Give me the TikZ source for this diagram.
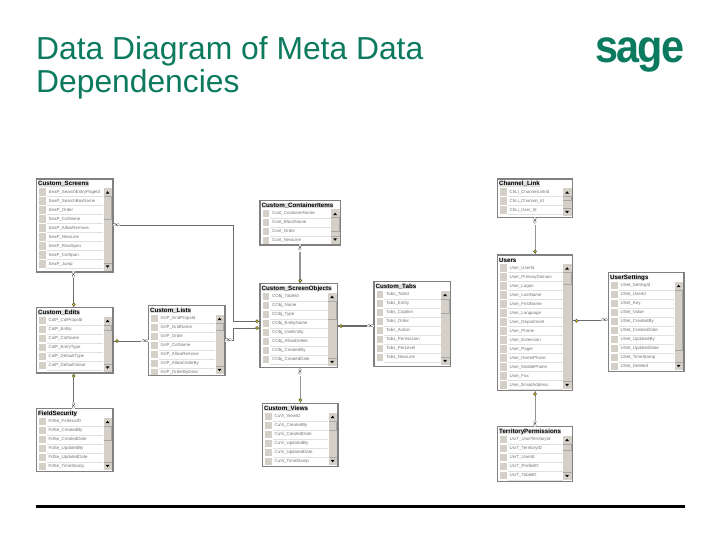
\documentclass[tikz,border=0pt]{standalone}
\usepackage{fontspec}
\setmainfont{Liberation Sans}
\usepackage{xcolor}
\usetikzlibrary{arrows.meta,positioning,calc}
\definecolor{sagegreen}{HTML}{0B7A5E}
\definecolor{winface}{HTML}{D4D0C8}
\newcommand{\tinyfont}{\fontsize{4.4}{5}\selectfont}
% name, left, top, right, bottom, title, thumb height, rows
\newcommand{\dbtable}[8]{
  \node[tbl,minimum width=#4-#2,minimum height=#5-#3] (#1) at ({(#2+#4)/2},{(#3+#5)/2}) {};
  \node[ttl,anchor=west] (#1-title) at (#2+1.5,#3+5) {#6};
  \begin{scope}
  \clip (#2+.7,#3+9) rectangle (#4-.7,#5-.7);
  \foreach \rowname [count=\i] in {#8}{
    \pgfmathsetmacro{\rowy}{#3+13+(\i-1)*9}
    \fill[winface] (#2+2.5,\rowy-3.6) rectangle (#2+9,\rowy+3.6);
    \draw[black!12,line width=.5pt] (#2+10,\rowy+4.4) -- (#4-10,\rowy+4.4);
    \node[rowlab,anchor=west] (#1-r\i) at (#2+12,\rowy) {\rowname};
  }
  \end{scope}
  \fill[winface] (#4-9.5,#3+9) rectangle (#4-1,#5-1.5);
  \fill[black!35] (#4-9.5,#3+17+#7) rectangle (#4-1,#3+17.6+#7);
  \fill[black!35] (#4-1.8,#3+17) rectangle (#4-1,#3+17+#7);
  \fill[black!35] (#4-9.5,#3+17) rectangle (#4-1,#3+17.5);
  \fill[black!35] (#4-9.5,#5-9.5) rectangle (#4-1,#5-9);
  \fill[black] (#4-7.3,#3+14.6) -- (#4-3.5,#3+14.6) -- (#4-5.4,#3+12.2) -- cycle;
  \fill[black] (#4-7.3,#5-6.6) -- (#4-3.5,#5-6.6) -- (#4-5.4,#5-4.2) -- cycle;
}
\begin{document}
\begin{tikzpicture}[x=1pt,y=-1pt,
  tbl/.style={draw=black!50,fill=white,line width=1.2pt,inner sep=0pt},
  ttl/.style={font=\fontsize{6.2}{7}\bfseries\selectfont,inner sep=0pt,fill=black!12},
  rowlab/.style={font=\tinyfont,text=black!55,inner sep=0pt},
  rel/.style={draw=black!58,line width=1pt},
  relb/.style={draw=black!42,line width=1pt},
  keyh/.style={circle,draw=black!70,fill=yellow!75!olive,line width=.5pt,inner sep=1.1pt},
  many/.style={font=\fontsize{6}{6}\selectfont,inner sep=0pt,fill=white}]
\useasboundingbox (0,0) rectangle (720,540);
\node[anchor=north west,align=left,text=sagegreen,inner sep=0pt,font=\fontsize{31.8}{33}\selectfont] (title) at (36,36) {Data Diagram of Meta Data\\Dependencies};
\node[anchor=center,text=sagegreen,inner sep=0pt,font=\fontsize{46}{46}\bfseries\selectfont,xscale=.9] (logo) at (640,55) {\addfontfeatures{LetterSpace=-5}sage};

\dbtable{screens}{36.5}{179}{113}{272}{Custom\_Screens}{23}{SeaP\_SearchEntryPageId,SeaP\_SearchBoxName,SeaP\_Order,SeaP\_ColName,SeaP\_AllowRemove,SeaP\_NewLine,SeaP\_RowSpan,SeaP\_ColSpan,SeaP\_Jump}
\dbtable{edits}{36.5}{307.5}{113}{373}{Custom\_Edits}{5}{ColP\_ColPropsId,ColP\_Entity,ColP\_ColName,ColP\_EntryType,ColP\_DefaultType,ColP\_DefaultValue}
\dbtable{lists}{148.5}{305.5}{225}{375.5}{Custom\_Lists}{7}{GriP\_GridPropsId,GriP\_GridName,GriP\_Order,GriP\_ColName,GriP\_AllowRemove,GriP\_AllowOrderBy,GriP\_OrderByDesc}
\dbtable{fieldsec}{36.5}{408.5}{113}{471.5}{FieldSecurity}{14}{FdSe\_FsSecuID,FdSe\_CreatedBy,FdSe\_CreatedDate,FdSe\_UpdatedBy,FdSe\_UpdatedDate,FdSe\_TimeStamp}
\dbtable{items}{260}{200.5}{340.5}{245}{Custom\_ContainerItems}{14}{Cont\_ContainerName,Cont\_BlockName,Cont\_Order,Cont\_NewLine}
\dbtable{objects}{260}{283.5}{337.5}{367.5}{Custom\_ScreenObjects}{18}{CObj\_TableId,CObj\_Name,CObj\_Type,CObj\_EntityName,CObj\_UseEntity,CObj\_AllowDelete,CObj\_CreatedBy,CObj\_CreatedDate}
\dbtable{tabs}{374}{281.5}{450.5}{366.5}{Custom\_Tabs}{14}{Tabs\_TabId,Tabs\_Entity,Tabs\_Caption,Tabs\_Order,Tabs\_Action,Tabs\_Permission,Tabs\_PerLevel,Tabs\_NewLine}
\dbtable{views}{262.5}{403.5}{338}{466.5}{Custom\_Views}{9}{CuVi\_ViewID,CuVi\_CreatedBy,CuVi\_CreatedDate,CuVi\_UpdatedBy,CuVi\_UpdatedDate,CuVi\_TimeStamp}
\dbtable{channel}{497.5}{179}{572.5}{217.5}{Channel\_Link}{4}{ChLi\_ChannelLinkId,ChLi\_Channel\_Id,ChLi\_User\_Id}
\dbtable{users}{497.5}{255}{572.5}{390.5}{Users}{12}{User\_UserId,User\_PrimaryDomain,User\_Logon,User\_LastName,User\_FirstName,User\_Language,User\_Department,User\_Phone,User\_Extension,User\_Pager,User\_HomePhone,User\_MobilePhone,User\_Fax,User\_EmailAddress}
\dbtable{settings}{608.5}{272.5}{684}{371.5}{UserSettings}{60}{USet\_SettingId,USet\_UserId,USet\_Key,USet\_Value,USet\_CreatedBy,USet\_CreatedDate,USet\_UpdatedBy,USet\_UpdatedDate,USet\_TimeStamp,USet\_Deleted}
\dbtable{territory}{497.5}{426.5}{572.5}{481.5}{TerritoryPermissions}{6}{UsrT\_UserTerritoryId,UsrT\_TerritoryID,UsrT\_UserId,UsrT\_ProfileID,UsrT\_TableID}

\coordinate (busA) at (233.5,321.3);
\coordinate (busB) at (233.5,328);
\coordinate (objA) at (260,321.3);
\coordinate (objB) at (260,328);
\coordinate (editsOut) at (113,341);
\coordinate (tabsOut) at (337.5,326);
\coordinate (usersOut) at (572.5,320.7);

\draw[rel] ([xshift=-1pt]screens.south) -- ([xshift=-1pt]edits.north);
\draw[rel] ([xshift=-1pt]edits.south) -- ([xshift=-1pt]fieldsec.north);
\draw[rel] (screens.east) -| (busA) -- (objA);
\draw[rel] (lists.east) -| (busB) -- (objB);
\draw[rel] (editsOut) -- (editsOut -| lists.west);
\draw[relb,line width=1.8pt] (items.south) -- (items.south |- objects.north);
\draw[rel,line width=1.4pt] (tabsOut) -- (tabsOut -| tabs.west);
\draw[relb] (views.north) -- (views.north |- objects.south);
\draw[relb] (channel.south) -- (users.north);
\draw[rel] (usersOut) -- (usersOut -| settings.west);
\draw[relb] (users.south) -- (territory.north);

% end marks
\node[many,rotate=90] (m1) at (73.7,274.8) {$\infty$};
\node[keyh] (k1) at (73.7,304.5) {};
\node[many] (m2) at (116.5,225) {$\infty$};
\node[keyh] (k2) at (257,321.3) {};
\node[many] (m3) at (228.5,340.5) {$\infty$};
\node[keyh] (k3) at (257,328) {};
\node[keyh] (k4) at (117,341) {};
\node[many] (m4) at (145,341) {$\infty$};
\node[keyh] (k5) at (73.7,376) {};
\node[many,rotate=90] (m5) at (73.7,405.5) {$\infty$};
\node[many,rotate=90] (m6) at (300.2,248) {$\infty$};
\node[keyh] (k6) at (300.2,280.5) {};
\node[keyh] (k7) at (341,326) {};
\node[many] (m7) at (370.5,326) {$\infty$};
\node[many,rotate=90] (m8) at (300.2,372) {$\infty$};
\node[keyh] (k8) at (300.2,400) {};
\node[many,rotate=90] (m9) at (535,221) {$\infty$};
\node[keyh] (k9) at (535,251.5) {};
\node[keyh] (k10) at (576.5,320.7) {};
\node[many] (m10) at (604.5,320.7) {$\infty$};
\node[keyh] (k11) at (535,394) {};
\node[many,rotate=90] (m11) at (535,423.5) {$\infty$};

\draw[black,line width=3pt] (36,506) -- (685,506);
\end{tikzpicture}
\end{document}
